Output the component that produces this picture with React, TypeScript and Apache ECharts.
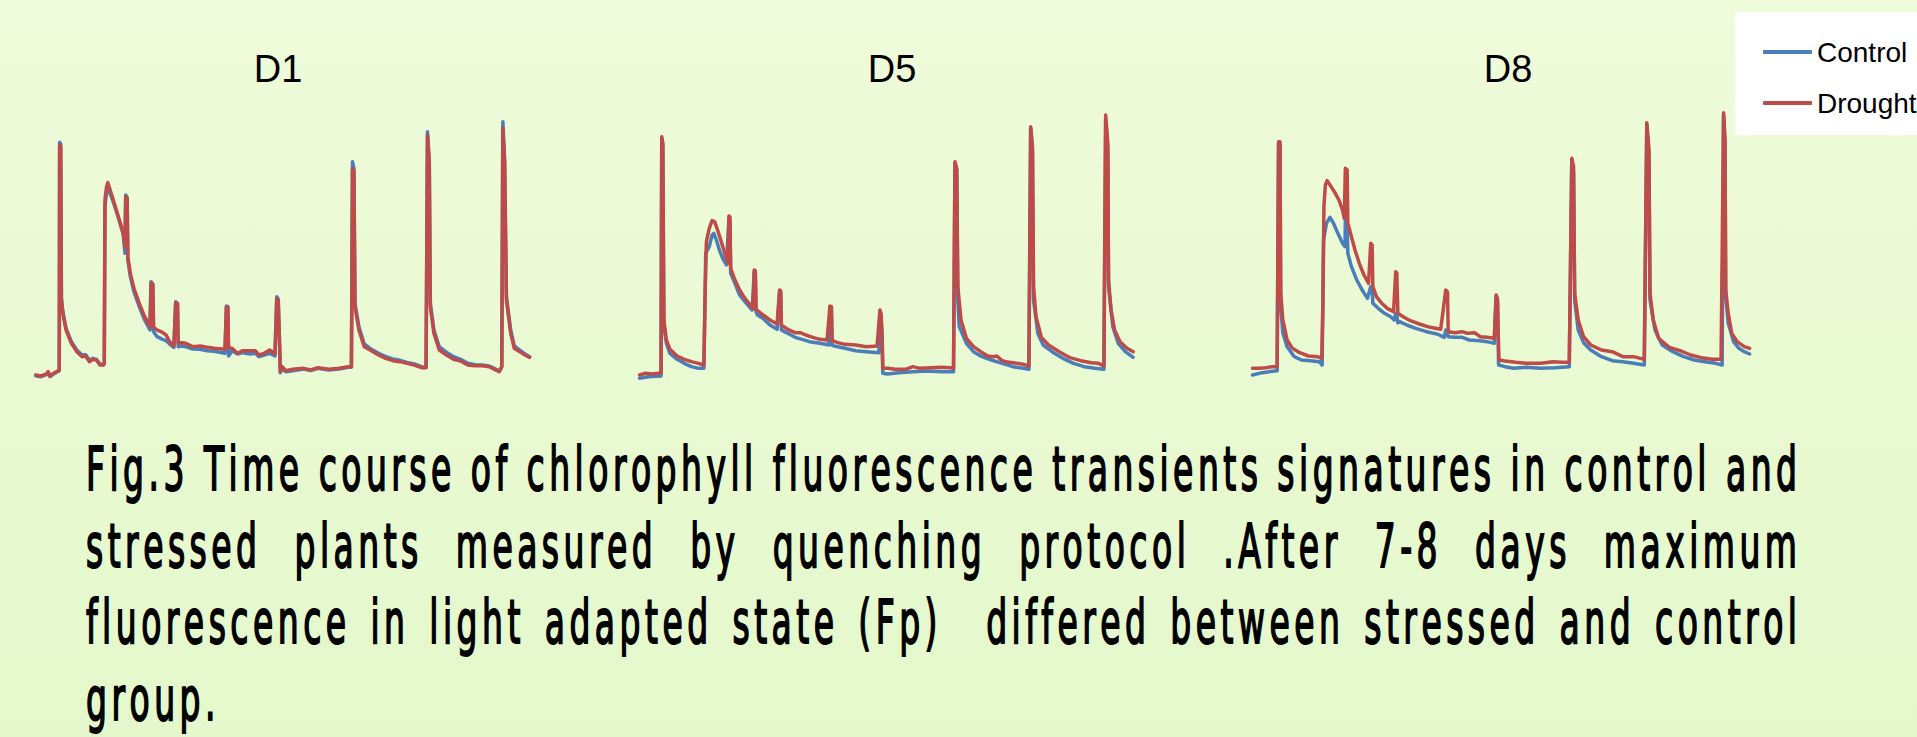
import React, { useEffect, useRef } from "react";
import * as echarts from "echarts";

// ---------- data (time in s, fluorescence in relative units) ----------
const panelTitles = ["D1", "D5", "D8"];
const seriesNames = ["Control", "Drought"];

const d1Control = [[0,7.3],[3,7.0],[6,7.6],[7,8.3],[8,7.0],[10,7.8],[12.6,8.6],[13.2,8.8],[13.4,77.3],[14,76.8],[14.4,30.5],[15.2,26.5],[17,21.5],[20,17.5],[23,15.0],[26,13.5],[28,13.6],[30,12.0],[32,12.5],[34,12.2],[36,10.8],[38,10.6],[38.4,11.0],[38.8,58.0],[39.6,62.0],[40.4,63.5],[42,61.5],[44,58.5],[46,55.2],[49,49.8],[50,44.0],[50.4,61.5],[51.2,60.8],[51.6,42.0],[53,37.0],[55,32.5],[58,28.0],[61,24.0],[64,21.0],[64.6,35.5],[65.6,34.8],[66,20.5],[68,19.0],[71,18.2],[73,17.8],[75,16.8],[77.4,15.8],[78.4,29.5],[79.4,29.0],[79.8,16.0],[82,16.2],[84,16.0],[88,15.3],[92,15.2],[96,14.8],[100,14.6],[106,14.0],[106.8,28.2],[107.6,28.0],[108,13.2],[110,14.8],[113,13.8],[116,14.2],[120,13.8],[123,14.0],[125,13.0],[128,13.5],[131,14.0],[134,13.2],[135,31.0],[135.8,30.3],[136.4,20.0],[137,8.2],[138,9.5],[140,8.5],[144,8.8],[150,9.3],[154,8.8],[158,9.5],[164,9.0],[170,9.3],[175,9.8],[176.8,9.8],[177.4,71.5],[178.2,69.5],[178.8,29.0],[181,22.0],[184,16.8],[188,15.2],[192,14.0],[196,13.0],[200,12.3],[204,11.9],[208,11.3],[212,10.8],[216,10.0],[218.6,9.8],[219.4,80.5],[220.4,72.0],[221,29.0],[223,21.0],[226,16.0],[230,14.3],[234,13.0],[238,12.2],[242,11.0],[246,10.6],[250,10.5],[254,10.2],[257,9.4],[259.6,8.7],[261,10.0],[261.6,83.5],[262.6,72.0],[263.6,31.0],[266,21.0],[268,16.2],[272,14.6],[274,13.8],[276.6,13.0]];
const d1Drought = [[0,7.5],[3,7.2],[6,7.8],[7,8.5],[8,7.2],[10,8.0],[12.6,8.8],[13.2,9.0],[13.4,76.5],[14,76.0],[14.4,30.0],[15.2,26.0],[17,21.0],[20,17.0],[23,14.5],[26,13.0],[28,13.2],[30,11.5],[32,12.2],[34,12.0],[36,10.5],[38,10.5],[38.4,11.0],[38.8,60.0],[39.6,63.8],[40.4,65.2],[42,62.5],[44,59.0],[46,55.5],[49,50.0],[50,46.0],[50.4,61.0],[51.2,60.5],[51.6,43.0],[53,38.0],[55,33.5],[58,29.0],[61,25.0],[64,22.0],[64.6,35.2],[65.6,34.5],[66,21.8],[68,21.0],[71,20.3],[73,19.5],[75,17.5],[77.4,16.2],[78.4,29.2],[79.4,28.8],[79.8,17.0],[82,17.2],[84,17.0],[88,16.0],[92,16.2],[96,15.8],[100,15.5],[106,15.2],[106.8,28.0],[107.6,27.8],[108,15.8],[110,15.5],[113,14.0],[116,14.8],[120,14.8],[123,14.8],[125,13.5],[128,14.0],[131,15.0],[134,13.8],[135,30.4],[135.8,29.8],[136.4,20.0],[137,8.5],[138,10.0],[140,8.8],[144,9.2],[150,9.5],[154,9.0],[158,9.7],[164,9.2],[170,9.5],[175,10.0],[176.8,10.0],[177.4,69.5],[178.2,68.5],[178.8,28.0],[181,21.0],[184,16.0],[188,14.8],[192,13.5],[196,12.5],[200,11.8],[204,11.5],[208,11.0],[212,10.5],[216,9.7],[218.6,9.7],[219.4,79.5],[220.4,71.0],[221,28.0],[223,20.0],[226,15.0],[230,13.5],[234,12.2],[238,11.7],[242,10.5],[246,10.3],[250,10.3],[254,10.0],[257,9.2],[259.6,8.5],[261,10.0],[261.6,81.5],[262.6,71.0],[263.6,30.0],[266,20.0],[268,15.5],[272,14.2],[274,13.5],[276.6,12.8]];

const d5Control = [[0,6.5],[5,7.0],[12,7.2],[12.4,78.5],[13,76.5],[13.6,22.0],[15,17.0],[17,14.0],[21,12.2],[25,11.0],[29,10.0],[33,9.5],[36,9.5],[36.6,28.0],[37,44.0],[39,46.0],[40.6,49.5],[41.6,50.0],[43,48.0],[45,44.5],[47,42.0],[48.6,40.5],[50,54.0],[50.6,53.8],[51,38.0],[53,35.5],[56,31.5],[59,29.5],[63,27.0],[64.2,38.5],[64.8,38.3],[65.2,26.5],[66,25.5],[69,24.5],[73,22.5],[77,21.2],[78.4,32.5],[79,32.3],[79.4,21.0],[80,20.8],[83,20.0],[87,18.8],[91,18.2],[95,17.5],[101,17.0],[106,16.5],[106.6,28.0],[107.4,27.8],[107.8,16.4],[109,16.2],[115,15.5],[121,14.8],[127,14.5],[134,14.2],[134.6,26.0],[135.2,25.0],[135.8,18.0],[136.2,8.0],[139,7.8],[145,8.2],[153,8.5],[161,8.7],[169,8.5],[175.8,8.5],[176.6,71.0],[177.6,69.0],[178.2,30.0],[179,22.0],[183,17.0],[187,14.5],[191,13.2],[197,12.0],[203,11.0],[209,10.0],[215,9.5],[218,9.2],[219,81.5],[220,75.0],[220.6,30.0],[223,20.0],[226,16.5],[231,14.5],[237,12.5],[243,11.0],[249,10.0],[255,9.5],[260,9.2],[261,84.0],[262.2,75.0],[262.6,34.0],[265,22.0],[268,17.0],[272,14.5],[276.4,12.8]];
const d5Drought = [[0,7.5],[3,8.0],[7,7.8],[11,8.0],[12,8.2],[12.4,79.0],[13,77.0],[13.6,24.0],[15,18.0],[17,15.2],[21,13.2],[25,12.2],[29,11.5],[33,11.0],[36,10.5],[36.6,30.0],[37.4,47.5],[39,51.5],[40.6,53.8],[42,53.5],[44,50.5],[46,47.0],[48,43.5],[49.4,41.0],[50,55.2],[50.6,55.0],[51,39.5],[53,36.5],[56,33.0],[59,30.5],[62,28.5],[63.6,27.5],[64.2,39.0],[64.8,38.8],[65.2,27.2],[68,26.0],[73,24.0],[77,22.8],[78.4,33.0],[79,32.8],[79.4,22.4],[83,21.2],[87,20.2],[90,20.2],[93,19.5],[97,18.8],[101,18.2],[105,18.0],[106.6,28.2],[107.4,28.0],[107.8,17.8],[111,17.2],[115,16.7],[121,16.5],[127,16.0],[133,16.2],[134.6,27.0],[135.2,26.0],[135.8,20.0],[136.2,9.5],[139,9.5],[143,9.2],[149,9.2],[153,10.0],[157,9.5],[163,9.7],[169,9.8],[174,9.7],[175.8,9.5],[176.6,71.5],[177.6,69.5],[178.2,34.0],[180,24.0],[183,18.5],[187,16.0],[191,14.5],[195,13.2],[198,13.0],[200,13.2],[203,11.8],[207,11.3],[211,11.0],[215,10.7],[218,10.2],[219,82.0],[220,76.0],[220.6,34.0],[222,25.0],[225,18.8],[229,16.5],[235,14.5],[241,12.7],[247,11.8],[253,11.2],[257,11.0],[260,10.2],[261,85.5],[262.2,77.0],[262.6,36.0],[264,27.0],[266,21.0],[269,17.5],[273,15.5],[276.4,14.5]];

const d8Control = [[0,7.5],[5.4,8.2],[9.4,8.5],[13.8,8.8],[14.6,77.0],[15.4,76.5],[15.8,28.0],[17,20.0],[19.4,16.0],[23.4,13.0],[27.4,12.0],[32.4,11.8],[37.4,11.5],[39,10.5],[39.8,48.0],[41.4,53.0],[43.4,54.8],[45.4,53.0],[47.8,50.0],[50.4,47.0],[51.8,46.0],[52,54.0],[53,53.5],[53.4,44.0],[55.4,40.0],[58.4,36.0],[61.4,33.0],[64.4,30.5],[66.2,34.0],[67,33.5],[67.4,29.0],[70.4,27.5],[73.4,26.2],[77.4,25.0],[79.4,24.0],[80.2,26.0],[80.8,25.5],[81.4,23.2],[82.4,23.5],[86.4,22.5],[91.4,21.5],[97.4,20.5],[103.4,19.8],[107.4,18.8],[108.2,21.0],[109.2,20.5],[109.6,19.0],[113.4,18.8],[117.4,18.8],[121.4,18.0],[127.4,17.8],[131.4,17.5],[135.4,17.0],[136.4,30.5],[137.2,29.5],[137.6,18.0],[137.8,10.5],[141.4,10.0],[146.4,9.5],[153.4,9.8],[161.4,9.5],[169.4,9.7],[177.4,10.0],[178.8,72.0],[179.8,68.0],[180.4,30.0],[182.4,21.0],[185.4,17.2],[189.4,15.0],[195.4,13.0],[201.4,11.8],[207.4,11.5],[213.4,11.0],[219.4,10.5],[220.8,82.5],[222,74.0],[222.6,30.0],[225.4,21.0],[229.4,16.5],[235.4,14.5],[241.4,13.0],[247.4,12.0],[253.4,11.5],[259.4,11.0],[263,10.5],[263.8,85.5],[264.6,77.0],[265,31.0],[266.4,23.0],[269.4,17.5],[272.4,15.5],[275.4,14.5],[278.4,13.8]];
const d8Drought = [[0,9.5],[3.4,9.5],[7.4,9.7],[11.4,10.0],[13.8,10.0],[14.6,77.5],[15.4,77.5],[15.8,32.0],[17,24.0],[19.4,18.0],[22.4,15.5],[26.4,14.2],[31.4,13.2],[36.4,13.0],[38.8,12.5],[39.4,28.0],[40,58.0],[40.8,64.5],[41.8,65.8],[43.4,64.5],[45.8,62.5],[48.4,60.0],[50.4,57.0],[51.4,54.5],[52,69.5],[53,69.0],[53.4,53.0],[55.4,49.0],[57.4,45.0],[59.8,41.0],[62.4,37.5],[65,35.0],[66.2,47.0],[67,46.5],[67.4,34.0],[69.4,31.0],[72.4,29.0],[75.4,27.5],[79,26.5],[80.2,38.5],[80.8,38.2],[81.4,26.0],[84.4,25.0],[88.4,23.8],[93.4,22.8],[99.4,21.8],[105.4,21.2],[108.2,33.0],[109.2,32.5],[109.6,20.5],[113.4,20.2],[117.4,20.5],[120.4,20.0],[124.4,20.2],[127.4,19.0],[131.4,18.8],[135.4,18.5],[136.4,31.5],[137.2,30.5],[137.6,20.0],[138,12.0],[141.4,11.7],[147.4,11.3],[153.4,11.0],[161.4,11.0],[168.4,11.5],[173.4,11.3],[177.4,11.3],[178.8,72.5],[179.8,70.0],[180.4,32.0],[182.4,24.0],[185.4,19.0],[189.4,16.5],[195.4,15.0],[201.4,14.5],[207.4,13.0],[213.4,13.0],[219.4,12.2],[220.8,83.2],[222,75.0],[222.6,32.0],[224.4,24.0],[227.4,18.5],[233.4,15.8],[239.4,14.8],[245.4,13.5],[251.4,12.7],[257.4,12.2],[262.4,12.2],[263.8,86.2],[264.6,78.0],[265,33.0],[266.4,26.0],[268.4,20.0],[271.4,17.5],[275.4,16.0],[278.4,15.5]];

const panelData = [
  [d1Control, d1Drought],
  [d5Control, d5Drought],
  [d8Control, d8Drought],
];

const captionLines = [
  "Fig.3 Time course of chlorophyll fluorescence transients signatures in control and",
  "stressed plants measured by quenching protocol .After 7-8 days maximum",
  "fluorescence in light adapted state (Fp)  differed between stressed and control",
  "group.",
];

// ---------- layout / style ----------
const W = 1917;
const H = 737;
const COLORS = ["#4A7EBB", "#BE4B48"];
const GRID_LEFTS = [35.7, 639.6, 1252.5];
const TITLE_X = [278, 892, 1508];
const CAP_LEFT = 86;
const CAP_RIGHT = 1797;
const CAP_BASELINES = [490, 567, 643, 720];
const CAP_SIZE = 60;
const CAP_SCALE = 0.55;
const CAP_FAMILY = '"DejaVu Sans"';

function buildCaption(): any[] {
  const canvas = document.createElement("canvas");
  const ctx = canvas.getContext("2d")!;
  const font = `${CAP_SIZE}px ${CAP_FAMILY}`;
  ctx.font = font;
  const avail = CAP_RIGHT - CAP_LEFT;
  const sx = CAP_SCALE;
  const cw = (ch: string) => ctx.measureText(ch).width * sx;
  // tracking chosen so that the first line fills the text block naturally
  const first = captionLines[0];
  let rawW = 0;
  for (const ch of first) rawW += cw(ch);
  const track = (avail - rawW) / (first.length - 1);
  const spaceW = cw(" ") + track;
  const els: any[] = [];
  captionLines.forEach((line, li) => {
    const words = line.split(" ");
    const widths = words.map((w) => {
      if (!w.length) return 0;
      let s = 0;
      for (const ch of w) s += cw(ch);
      return s + track * (w.length - 1);
    });
    const sum = widths.reduce((a, b) => a + b, 0);
    const justify = li < captionLines.length - 1 && words.length > 1;
    const gap = justify ? (avail - sum) / (words.length - 1) : spaceW;
    let x = CAP_LEFT;
    words.forEach((w, wi) => {
      let cx = x;
      for (const ch of w) {
        els.push({
          type: "text",
          x: cx,
          y: CAP_BASELINES[li] - 0.346 * CAP_SIZE,
          scaleX: sx,
          style: {
            text: ch,
            font,
            fill: "#000000",
            stroke: "#000000",
            lineWidth: 2.0,
            align: "left",
            verticalAlign: "middle",
          },
        });
        cx += cw(ch) + track;
      }
      x += widths[wi] + gap;
    });
  });
  return els;
}

export default function App() {
  const ref = useRef<HTMLDivElement>(null);
  useEffect(() => {
    const chart = echarts.init(ref.current!, null, { renderer: "svg" });
    const grids = GRID_LEFTS.map((left) => ({ left, top: 100, width: 500, height: 300 }));
    const xAxes = GRID_LEFTS.map((_, i) => ({
      type: "value", gridIndex: i, min: 0, max: 280, show: false,
    }));
    const yAxes = GRID_LEFTS.map((_, i) => ({
      type: "value", gridIndex: i, min: 0, max: 90, show: false,
    }));
    const series: any[] = [];
    panelData.forEach((pair, i) => {
      pair.forEach((data, s) => {
        series.push({
          type: "line",
          name: seriesNames[s],
          xAxisIndex: i,
          yAxisIndex: i,
          data,
          symbol: "none",
          z: 2 + s,
          color: COLORS[s],
          lineStyle: { width: 3.5, color: COLORS[s], cap: "round", join: "round" },
        });
      });
    });
    const titles = panelTitles.map((t, i) => ({
      type: "text",
      x: TITLE_X[i],
      y: 82 - 0.3465 * 38,
      style: {
        text: t,
        font: '38px "Liberation Sans", Arial, sans-serif',
        fill: "#000000",
        align: "center",
        verticalAlign: "middle",
      },
    }));
    chart.setOption({
      animation: false,
      backgroundColor: "transparent",
      grid: grids,
      xAxis: xAxes,
      yAxis: yAxes,
      legend: {
        data: seriesNames,
        orient: "vertical",
        left: 1763,
        top: 38,
        itemWidth: 49,
        itemHeight: 4,
        itemGap: 23,
        padding: 0,
        icon: "roundRect",
        textStyle: { fontSize: 28, fontFamily: '"Liberation Sans", Arial, sans-serif', color: "#000000" },
      },
      graphic: [
        {
          type: "rect",
          z: 0,
          shape: { x: 1735, y: 12, width: 200, height: 123 },
          style: { fill: "#FFFFFF" },
        },
        ...titles,
        ...buildCaption(),
      ],
      series,
    });
    return () => chart.dispose();
  }, []);
  return (
    <div
      ref={ref}
      style={{
        position: "fixed",
        left: 0,
        top: 0,
        width: W,
        height: H,
        background: "linear-gradient(180deg, #EFFBDA 0%, #E4F8CB 100%)",
      }}
    />
  );
}
